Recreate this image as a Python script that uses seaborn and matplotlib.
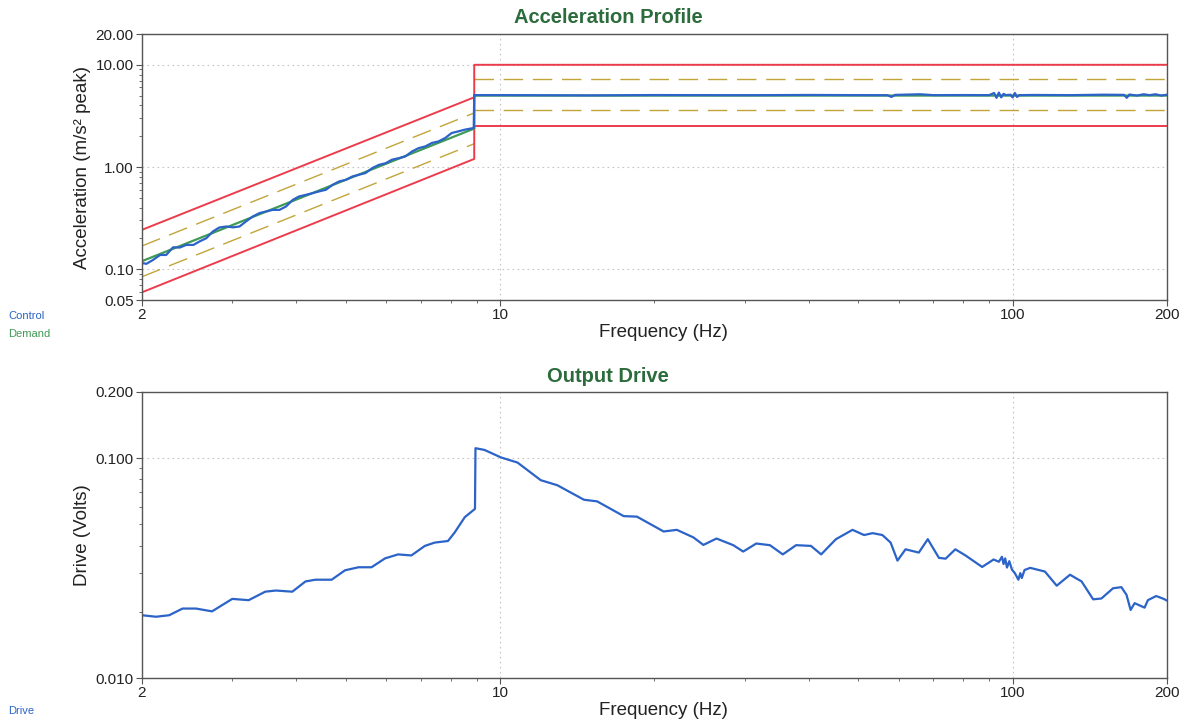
import numpy as np
import seaborn as sns
import matplotlib.pyplot as plt
from matplotlib.ticker import FixedLocator, FixedFormatter, LogLocator, NullFormatter

# ---- Acceleration profile (m/s^2 peak) ----
demand_freq = [2.0, 8.9, 8.9, 200.0]
demand_acc = [0.12, 2.38, 5.0, 5.0]

control_freq = [2.0, 2.04, 2.10, 2.17, 2.23, 2.30, 2.37, 2.44, 2.52, 2.59, 2.67,
                2.75, 2.83, 2.92, 3.01, 3.10, 3.19, 3.29, 3.39, 3.49, 3.60, 3.71,
                3.82, 3.94, 4.05, 4.18, 4.31, 4.43, 4.57, 4.71, 4.85, 5.00, 5.15,
                5.30, 5.46, 5.63, 5.80, 5.98, 6.15, 6.34, 6.53, 6.73, 6.93, 7.14,
                7.36, 7.58, 7.81, 8.04, 8.28, 8.53, 8.88, 8.9,
                10, 15, 20, 30, 40, 50, 57, 58, 59, 66, 70, 80, 90, 92, 93, 94,
                95, 96, 97, 99, 100, 101, 102, 103, 110, 130, 150, 165, 167, 169,
                175, 180, 185, 190, 195, 200]
control_acc = [0.115, 0.113, 0.123, 0.138, 0.138, 0.164, 0.163, 0.173, 0.173, 0.187,
               0.201, 0.234, 0.256, 0.262, 0.257, 0.262, 0.293, 0.328, 0.354, 0.367,
               0.381, 0.381, 0.411, 0.478, 0.515, 0.535, 0.556, 0.577, 0.599, 0.670,
               0.723, 0.750, 0.809, 0.840, 0.873, 0.977, 1.05, 1.09, 1.18, 1.22,
               1.27, 1.42, 1.53, 1.59, 1.72, 1.78, 1.92, 2.15, 2.23, 2.32, 2.41, 5.05,
               5.05, 5.02, 5.06, 5.04, 5.07, 5.05, 5.04, 4.85, 5.08, 5.15, 5.05, 5.06,
               5.05, 5.3, 4.75, 5.35, 4.8, 5.2, 5.05, 5.1, 4.8, 5.3, 4.85, 5.05, 5.07,
               5.05, 5.1, 5.08, 4.75, 5.12, 5.0, 5.15, 5.05, 5.15, 5.0, 5.1]

# abort limits (red)
abort_upper_freq = [2.0, 8.9]
abort_upper_acc = [0.243, 4.81]
abort_outline_freq = [2.0, 8.9, 8.9, 200.0]
abort_outline_acc = [0.0595, 1.20, 10.0, 10.0]
abort_lower_freq = [8.9, 200.0]
abort_lower_acc = [2.54, 2.54]

# alarm limits (dashed)
alarm_low_freq = [2.0, 8.9]
alarm_low_upper = [0.169, 3.38]
alarm_low_lower = [0.0845, 1.69]
alarm_high_freq = [8.9, 200.0]
alarm_high_upper = [7.2, 7.2]
alarm_high_lower = [3.58, 3.58]

# ---- Output drive (Volts) ----
drive_freq = [2.0, 2.13, 2.26, 2.40, 2.55, 2.74, 3.00, 3.23, 3.48, 3.65, 3.93, 4.17,
              4.36, 4.69, 4.98, 5.29, 5.61, 5.96, 6.32, 6.71, 7.13, 7.45, 7.91, 8.15,
              8.53, 8.93, 8.95, 9.32, 10.03, 10.81, 12.0, 12.93, 14.57, 15.46, 17.42,
              18.49, 20.84, 22.12, 23.83, 24.92, 26.43, 28.5, 29.8, 31.6, 33.6, 35.6,
              37.8, 40.4, 42.3, 45.2, 48.7, 51.3, 53.3, 55.7, 57.8, 59.6, 61.8, 65.6,
              68.3, 71.8, 74.0, 77.3, 80.9, 87.2, 91.8, 94.0, 95.3, 96.0, 96.7, 97.5,
              98.5, 99.7, 101.0, 102.6, 103.5, 104.2, 105.5, 108.2, 115.6, 121.9,
              129.4, 136.3, 143.6, 149.0, 157.0, 163.0, 166.8, 169.9, 173.0, 180.9,
              183.6, 190.6, 197.2, 200.0]
drive_volts = [0.0193, 0.0190, 0.0193, 0.0207, 0.0207, 0.0201, 0.0229, 0.0226, 0.0247,
               0.0250, 0.0247, 0.0275, 0.0280, 0.0280, 0.0309, 0.0319, 0.0319, 0.0350,
               0.0365, 0.0361, 0.0399, 0.0413, 0.0420, 0.0459, 0.0539, 0.0588, 0.111,
               0.109, 0.1008, 0.0955, 0.0794, 0.0753, 0.0647, 0.0636, 0.0545, 0.0542,
               0.0464, 0.0472, 0.0436, 0.0403, 0.0431, 0.0402, 0.0376, 0.0409, 0.0402,
               0.0365, 0.0402, 0.0399, 0.0365, 0.0428, 0.0472, 0.0447, 0.0456, 0.0447,
               0.0413, 0.0342, 0.0385, 0.0372, 0.0428, 0.0352, 0.0349, 0.0385, 0.0361,
               0.0320, 0.0346, 0.0338, 0.0356, 0.0330, 0.0350, 0.0318, 0.0340, 0.0311,
               0.0300, 0.0280, 0.0300, 0.0285, 0.0310, 0.0317, 0.0305, 0.0263, 0.0295,
               0.0275, 0.0228, 0.0230, 0.0256, 0.0259, 0.0239, 0.0204, 0.0219, 0.0209,
               0.0226, 0.0236, 0.0229, 0.0225]

BLUE = "#2b63c8"
GREEN = "#3f9a55"
RED = "#ec3c4c"
OLIVE = "#c2a53a"
TITLE_GREEN = "#2c6b3c"
SPINE = "#555555"

sns.set_style("white")
plt.rcParams["font.family"] = ["Liberation Sans", "DejaVu Sans"]


def trace(ax, f, v, **kw):
    sns.lineplot(x=f, y=v, ax=ax, sort=False, estimator=None, legend=False,
                 solid_joinstyle="round", **kw)


def style_axes(ax, xticks, xlabels, yticks, ylabels, ylim, ylabel):
    ax.set_xscale("log")
    ax.set_yscale("log")
    ax.set_xlim(2, 200)
    ax.set_ylim(*ylim)
    ax.xaxis.set_major_locator(FixedLocator(xticks))
    ax.xaxis.set_major_formatter(FixedFormatter(xlabels))
    ax.yaxis.set_major_locator(FixedLocator(yticks))
    ax.yaxis.set_major_formatter(FixedFormatter(ylabels))
    ax.xaxis.set_minor_locator(LogLocator(base=10, subs=range(2, 10)))
    ax.yaxis.set_minor_locator(LogLocator(base=10, subs=range(2, 10)))
    ax.xaxis.set_minor_formatter(NullFormatter())
    ax.yaxis.set_minor_formatter(NullFormatter())
    ax.tick_params(which="both", bottom=True, left=True, direction="out", color=SPINE)
    ax.tick_params(which="major", length=4, width=0.8, labelsize=11,
                   labelcolor="#222222", pad=2)
    ax.tick_params(which="minor", length=2.5, width=0.6)
    for s in ax.spines.values():
        s.set_color(SPINE)
        s.set_linewidth(1.0)
    ax.grid(True, which="major", linestyle=(0, (1.5, 3)), color="#c4c4c4", linewidth=0.8)
    ax.set_axisbelow(True)
    ax.set_xlabel("Frequency (Hz)", fontsize=13.5, color="#222222", labelpad=1)
    ax.xaxis.label.set_x(0.509)
    ax.set_ylabel(ylabel, fontsize=13.5, color="#222222", labelpad=3)


fig = plt.figure(figsize=(11.9, 7.24), dpi=100)
ax1 = fig.add_axes([0.1193, 0.5856, 0.8613, 0.3674])
ax2 = fig.add_axes([0.1193, 0.0635, 0.8613, 0.3951])

# top panel
style_axes(ax1, [2, 10, 100, 200], ["2", "10", "100", "200"],
           [0.05, 0.1, 1, 10, 20], ["0.05", "0.10", "1.00", "10.00", "20.00"],
           (0.05, 20), "Acceleration (m/s² peak)")
dash = (0, (14, 7))
trace(ax1, alarm_low_freq, alarm_low_upper, color=OLIVE, linewidth=1.0, linestyle=dash)
trace(ax1, alarm_low_freq, alarm_low_lower, color=OLIVE, linewidth=1.0, linestyle=dash)
trace(ax1, alarm_high_freq, alarm_high_upper, color=OLIVE, linewidth=1.0, linestyle=dash)
trace(ax1, alarm_high_freq, alarm_high_lower, color=OLIVE, linewidth=1.0, linestyle=dash)
trace(ax1, abort_upper_freq, abort_upper_acc, color=RED, linewidth=1.4)
trace(ax1, abort_outline_freq, abort_outline_acc, color=RED, linewidth=1.4)
trace(ax1, abort_lower_freq, abort_lower_acc, color=RED, linewidth=1.4)
trace(ax1, demand_freq, demand_acc, color=GREEN, linewidth=1.6)
trace(ax1, control_freq, control_acc, color=BLUE, linewidth=1.6)

# bottom panel
style_axes(ax2, [2, 10, 100, 200], ["2", "10", "100", "200"],
           [0.01, 0.1, 0.2], ["0.010", "0.100", "0.200"],
           (0.01, 0.2), "Drive (Volts)")
trace(ax2, [drive_freq[0], drive_freq[0]], [0.01, drive_volts[0]], color=OLIVE, linewidth=1.2)
trace(ax2, drive_freq, drive_volts, color=BLUE, linewidth=1.6)

fig.text(0.511, 0.976, "Acceleration Profile", ha="center", va="center",
         fontsize=14.5, fontweight="bold", color=TITLE_GREEN)
fig.text(0.511, 0.480, "Output Drive", ha="center", va="center",
         fontsize=14.5, fontweight="bold", color=TITLE_GREEN)

fig.text(0.007, 1 - 316 / 724, "Control", ha="left", va="center", fontsize=8, color=BLUE)
fig.text(0.007, 1 - 334 / 724, "Demand", ha="left", va="center", fontsize=8, color=GREEN)
fig.text(0.007, 1 - 711 / 724, "Drive", ha="left", va="center", fontsize=8, color=BLUE)

fig.savefig("out.png", dpi=100, facecolor="white")
